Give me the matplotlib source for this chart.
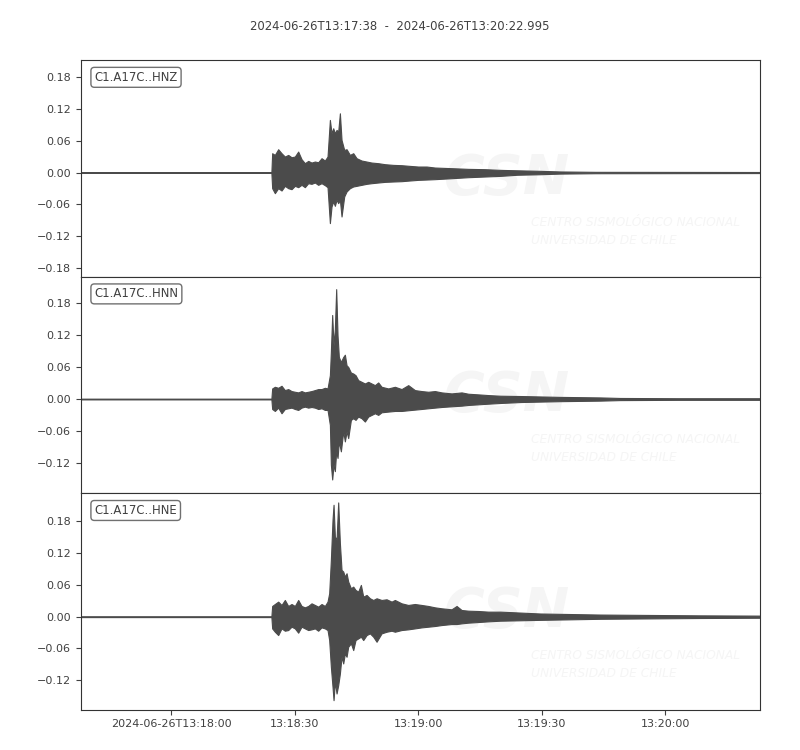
import matplotlib
matplotlib.use("Agg")
from matplotlib import pyplot as plt
from matplotlib.ticker import MultipleLocator, FuncFormatter

# time in seconds since 2024-06-26T13:17:38, envelope (max / min)
title = "2024-06-26T13:17:38  -  2024-06-26T13:20:22.995"
t_end = 164.995
xtick_pos = [22, 52, 82, 112, 142]
xtick_labels = ["2024-06-26T13:18:00", "13:18:30", "13:19:00", "13:19:30", "13:20:00"]

labels = ["C1.A17C..HNZ", "C1.A17C..HNN", "C1.A17C..HNE"]
ylims = [(-0.196, 0.212), (-0.176, 0.229), (-0.1755, 0.233)]

# P-wave part, same sampling for all three channels
p_t = [46.49, 47.14, 47.95, 48.76, 49.57, 50.38, 51.19, 52.00, 52.81, 53.62,
       54.43, 55.24, 56.05, 56.86, 57.67, 58.48, 59.29, 59.94]

hnz_t = [0, 46.3] + p_t + [
    60.51, 60.91, 61.32, 61.72, 62.13, 62.53, 62.94, 63.34, 63.99, 64.56,
    65.37, 66.18, 66.99, 68.20, 69.42, 70.63, 72.25, 73.87, 75.90, 77.92,
    79.95, 81.97, 83.99, 86.02, 90.07, 94.12, 98.17, 101.9,
    106, 111.6, 116.5, 125, 140, 165]
hnz_max = [0.0007, 0.0007,
           0.0364, 0.0332, 0.0439, 0.0364, 0.0301, 0.0332, 0.0288, 0.0301, 0.0395, 0.0251,
           0.0176, 0.0219, 0.0188, 0.0207, 0.0194, 0.0270, 0.0226, 0.0301,
           0.0991, 0.0740, 0.0834, 0.0740, 0.0803, 0.0771, 0.1116, 0.0614, 0.0426, 0.0439,
           0.0332, 0.0364, 0.0270, 0.0226, 0.0207, 0.0188, 0.0176, 0.0157, 0.0144, 0.0138,
           0.0125, 0.0113, 0.0113, 0.0094, 0.0082, 0.0069, 0.0063, 0.0050,
           0.0042, 0.0032, 0.0020, 0.0013, 0.0012, 0.0010]
hnz_min = [-0.0007, -0.0007,
           -0.0295, -0.0389, -0.0295, -0.0339, -0.0251, -0.0295, -0.0314, -0.0251, -0.0276, -0.0232,
           -0.0276, -0.0201, -0.0213, -0.0188, -0.0232, -0.0201, -0.0238, -0.0276,
           -0.0953, -0.0640, -0.0545, -0.0627, -0.0514, -0.0577, -0.0514, -0.0828, -0.0451, -0.0357,
           -0.0295, -0.0263, -0.0251, -0.0232, -0.0213, -0.0201, -0.0188, -0.0176, -0.0169, -0.0163,
           -0.0150, -0.0138, -0.0132, -0.0125, -0.0107, -0.0088, -0.0075, -0.0063,
           -0.0042, -0.0032, -0.0020, -0.0013, -0.0012, -0.0010]

hnn_t = [0, 46.3] + p_t + [
    60.51, 60.75, 61.07, 61.40, 61.72, 62.04, 62.37, 62.69, 63.18, 63.75,
    64.15, 64.56, 64.96, 65.61, 66.18, 66.74, 67.39, 68.2, 69.01, 69.82,
    70.63, 71.44, 72.25, 73.06, 74.68, 76.3, 77.92, 79.54, 81.16, 82.78,
    84.4, 86.02, 87.64, 90.07, 92.5, 94.12, 96.55, 98.98, 101.9,
    106.9, 116.5, 126.2, 131, 145, 165]
hnn_max = [0.0007, 0.0007,
           0.0198, 0.0229, 0.0210, 0.0248, 0.0167, 0.0186, 0.0149, 0.0136, 0.0124, 0.0149,
           0.0124, 0.0136, 0.0149, 0.0167, 0.0186, 0.0186, 0.0210, 0.0198,
           0.0446, 0.0879, 0.1572, 0.1003, 0.1312, 0.2055, 0.1188, 0.0786, 0.0693, 0.0786,
           0.0829, 0.0631, 0.0600, 0.0495, 0.0477, 0.0446, 0.0353, 0.0322, 0.0291, 0.0322,
           0.0291, 0.0260, 0.0310, 0.0229, 0.0198, 0.0229, 0.0186, 0.0260, 0.0167, 0.0149,
           0.0136, 0.0149, 0.0124, 0.0105, 0.0124, 0.0099, 0.0087, 0.0074, 0.0062,
           0.0056, 0.0040, 0.0030, 0.0020, 0.0015, 0.0015]
hnn_min = [-0.0007, -0.0007,
           -0.0186, -0.0223, -0.0161, -0.0266, -0.0186, -0.0173, -0.0161, -0.0186, -0.0204, -0.0161,
           -0.0142, -0.0161, -0.0149, -0.0161, -0.0186, -0.0173, -0.0204, -0.0204,
           -0.0483, -0.1226, -0.1504, -0.1226, -0.1349, -0.0978, -0.1102, -0.0792, -0.0978, -0.0607,
           -0.0792, -0.0607, -0.0730, -0.0390, -0.0359, -0.0390, -0.0328, -0.0359, -0.0421, -0.0328,
           -0.0297, -0.0266, -0.0297, -0.0248, -0.0235, -0.0223, -0.0223, -0.0210, -0.0198, -0.0186,
           -0.0173, -0.0161, -0.0149, -0.0136, -0.0124, -0.0111, -0.0099, -0.0087, -0.0074,
           -0.0056, -0.0040, -0.0030, -0.0020, -0.0015, -0.0015]

hne_t = [0, 46.3] + p_t + [
    60.34, 60.75, 61.15, 61.40, 61.72, 62.13, 62.53, 62.94, 63.34, 63.75,
    64.15, 64.56, 64.96, 65.61, 66.18, 66.74, 67.39, 68.04, 68.61, 69.42,
    70.23, 71.04, 71.85, 73.06, 74.28, 75.49, 76.3, 77.92, 79.54, 81.16,
    82.78, 84.4, 86.02, 87.64, 90.07, 91.29, 92.5, 94.12, 96.55, 98.98,
    101.9, 111.6, 126.2, 150.5, 165]
hne_max = [0.0008, 0.0008,
           0.0202, 0.0239, 0.0284, 0.0221, 0.0315, 0.0202, 0.0239, 0.0202, 0.0315, 0.0202,
           0.0176, 0.0202, 0.0252, 0.0221, 0.0189, 0.0239, 0.0202, 0.0284,
           0.0441, 0.1071, 0.1827, 0.2111, 0.1512, 0.1449, 0.2155, 0.1386, 0.0882, 0.0851,
           0.0756, 0.0819, 0.0662, 0.0536, 0.0567, 0.0504, 0.0473, 0.0599, 0.0378, 0.0410,
           0.0347, 0.0315, 0.0347, 0.0315, 0.0328, 0.0284, 0.0315, 0.0252, 0.0221, 0.0239,
           0.0221, 0.0202, 0.0176, 0.0158, 0.0139, 0.0202, 0.0126, 0.0113, 0.0107, 0.0095,
           0.0095, 0.0060, 0.0040, 0.0025, 0.0020]
hne_min = [-0.0008, -0.0008,
           -0.0221, -0.0284, -0.0347, -0.0221, -0.0265, -0.0252, -0.0189, -0.0221, -0.0302, -0.0189,
           -0.0221, -0.0252, -0.0239, -0.0221, -0.0265, -0.0202, -0.0221, -0.0252,
           -0.0441, -0.0945, -0.1323, -0.1575, -0.1229, -0.1449, -0.1292, -0.1071, -0.0756, -0.0882,
           -0.0693, -0.0756, -0.0567, -0.0504, -0.0630, -0.0441, -0.0410, -0.0378, -0.0441, -0.0347,
           -0.0315, -0.0378, -0.0473, -0.0315, -0.0284, -0.0265, -0.0284, -0.0252, -0.0239, -0.0221,
           -0.0202, -0.0189, -0.0176, -0.0158, -0.0139, -0.0139, -0.0126, -0.0113, -0.0101, -0.0088,
           -0.0076, -0.0060, -0.0040, -0.0025, -0.0020]

traces = [(hnz_t, hnz_max, hnz_min), (hnn_t, hnn_max, hnn_min), (hne_t, hne_max, hne_min)]

trace_color = "#4b4b4b"
text_color = "#404040"
mark_color = "#f5f5f5"


def fmt_amp(v, pos):
    s = "%.2f" % v
    if s == "-0.00":
        s = "0.00"
    return s.replace("-", "\u2212")


def add_watermark(ax):
    ax.text(0.627, 0.45, "CSN", transform=ax.transAxes, ha="center", va="center",
            fontsize=40, fontweight="bold", style="italic", color=mark_color, zorder=0)
    for y, line in [(0.25, "CENTRO SISMOLÓGICO NACIONAL"), (0.165, "UNIVERSIDAD DE CHILE")]:
        ax.text(0.663, y, line, transform=ax.transAxes, ha="left", va="center",
                fontsize=8.8, style="italic", color=mark_color, zorder=0)


fig, axes = plt.subplots(3, 1, sharex=True, figsize=(8, 7.5), dpi=100)
fig.subplots_adjust(left=0.101, right=0.950, top=0.92, bottom=0.0537, hspace=0)

for ax, (t, up, lo), label, lim in zip(axes, traces, labels, ylims):
    add_watermark(ax)
    ax.fill_between(t, lo, up, color=trace_color, lw=0.8, zorder=2)
    ax.set_ylim(*lim)
    ax.set_xlim(0, t_end)
    ax.yaxis.set_major_locator(MultipleLocator(0.06))
    ax.yaxis.set_major_formatter(FuncFormatter(fmt_amp))
    ax.tick_params(axis="both", labelsize=8, colors=text_color, labelcolor=text_color)
    for sp in ax.spines.values():
        sp.set_color("#333333")
    ax.text(0.02, 0.95, label, transform=ax.transAxes, ha="left", va="top",
            fontsize=8.33, color=text_color, zorder=5,
            bbox=dict(boxstyle="round", fc="white", ec="#707070", lw=1))

for ax in axes[:-1]:
    ax.tick_params(axis="x", bottom=False, labelbottom=False)

axes[-1].set_xticks(xtick_pos)
axes[-1].set_xticklabels(xtick_labels)

fig.suptitle(title, fontsize=8.33, color=text_color, y=0.973)

fig.savefig("out.png", dpi=100)
